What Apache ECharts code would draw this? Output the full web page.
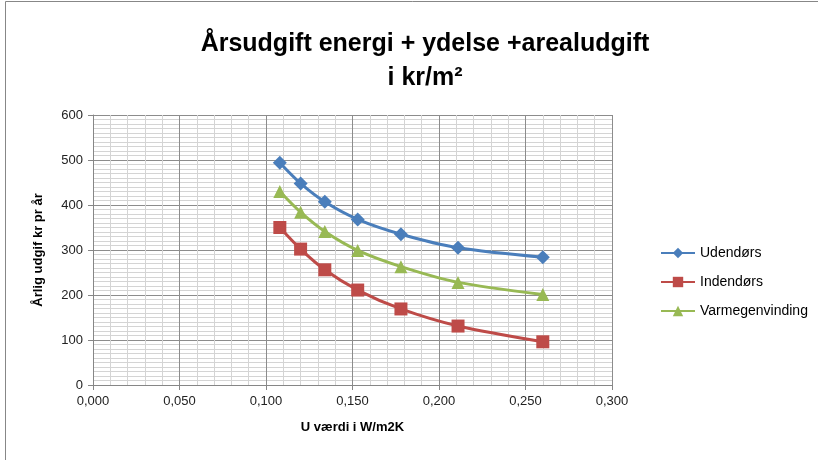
<!DOCTYPE html>
<html lang="da">
<head>
    <meta charset="UTF-8">
    <title>Årsudgift</title>
    <script src="https://cdn.jsdelivr.net/npm/echarts@6/dist/echarts.min.js"></script>
    <style>
        body { margin: 0; background: #fff; }
    </style>
</head>
<body>
<div id="main" style="width: 818px;height:460px;"></div>
<script type="text/javascript">
    // U-værdier (x) og årlige udgifter pr. serie
    var uValues = [0.108, 0.120, 0.134, 0.153, 0.178, 0.211, 0.260];
    var udendors = [494, 448, 407, 368, 335, 305, 284];
    var indendors = [350, 302, 256, 211, 169, 131, 96];
    var varmegenvinding = [430, 384, 341, 299, 263, 228, 201];
    var seriesNames = ['Udendørs', 'Indendørs', 'Varmegenvinding'];

    function pairs(ys) {
        var out = [];
        for (var i = 0; i < uValues.length; i++) {
            out.push([uValues[i], ys[i]]);
        }
        return out;
    }

    var myChart = echarts.init(document.getElementById('main'));
    var font = 'Liberation Sans, Arial, sans-serif';

    myChart.setOption({
        animation: false,
        textStyle: { fontFamily: font },
        graphic: [{
            type: 'rect',
            shape: { x: 5.5, y: 1.5, width: 830, height: 470 },
            style: { fill: null, stroke: '#878787', lineWidth: 1 }
        }],
        title: {
            text: 'Årsudgift energi + ydelse +arealudgift\ni kr/m²',
            left: 420,
            textAlign: 'center',
            top: 22,
            textStyle: { fontSize: 25, fontWeight: 'bold', color: '#000', lineHeight: 34, fontFamily: font }
        },
        legend: {
            orient: 'vertical',
            left: 655,
            top: 241,
            itemGap: 15,
            itemWidth: 34,
            itemHeight: 13,
            data: seriesNames,
            textStyle: { fontSize: 14, color: '#000', fontFamily: font }
        },
        grid: { left: 93, right: 206, top: 115, bottom: 75 },
        xAxis: {
            type: 'value',
            min: 0, max: 0.3, interval: 0.05,
            name: 'U værdi i W/m2K',
            nameLocation: 'middle',
            nameGap: 36,
            nameTextStyle: { fontWeight: 'bold', fontSize: 13, color: '#000' },
            axisLine: { show: true, lineStyle: { color: '#868686' } },
            axisTick: { show: true, length: 5, lineStyle: { color: '#868686' } },
            axisLabel: {
                fontSize: 13, color: '#222', margin: 10,
                formatter: function (v) { return v.toFixed(3).replace('.', ','); }
            },
            splitLine: { show: true, lineStyle: { color: '#8c8c8c' } },
            minorTick: { show: false, splitNumber: 5 },
            minorSplitLine: { show: true, lineStyle: { color: '#d4d4d4' } }
        },
        yAxis: {
            type: 'value',
            min: 0, max: 600, interval: 100,
            name: 'Årlig udgif kr pr år',
            nameLocation: 'middle',
            nameGap: 48,
            nameTextStyle: { fontWeight: 'bold', fontSize: 13, color: '#000' },
            axisLine: { show: true, lineStyle: { color: '#868686' } },
            axisTick: { show: true, length: 5, lineStyle: { color: '#868686' } },
            axisLabel: { fontSize: 13, color: '#222', margin: 10 },
            splitLine: { show: true, lineStyle: { color: '#8c8c8c' } },
            minorTick: { show: false, splitNumber: 10 },
            minorSplitLine: { show: true, lineStyle: { color: '#d4d4d4' } }
        },
        series: [
            {
                name: seriesNames[0], type: 'line', smooth: 0.3,
                symbol: 'diamond', symbolSize: 14,
                itemStyle: { color: '#4A7EBB' },
                lineStyle: { width: 3, color: '#4A7EBB' },
                data: pairs(udendors)
            },
            {
                name: seriesNames[1], type: 'line', smooth: 0.3,
                symbol: 'rect', symbolSize: 13,
                itemStyle: { color: '#BE4B48' },
                lineStyle: { width: 3, color: '#BE4B48' },
                data: pairs(indendors)
            },
            {
                name: seriesNames[2], type: 'line', smooth: 0.3,
                symbol: 'triangle', symbolSize: 13,
                itemStyle: { color: '#98B954' },
                lineStyle: { width: 3, color: '#98B954' },
                data: pairs(varmegenvinding)
            }
        ]
    });
</script>
</body>
</html>
